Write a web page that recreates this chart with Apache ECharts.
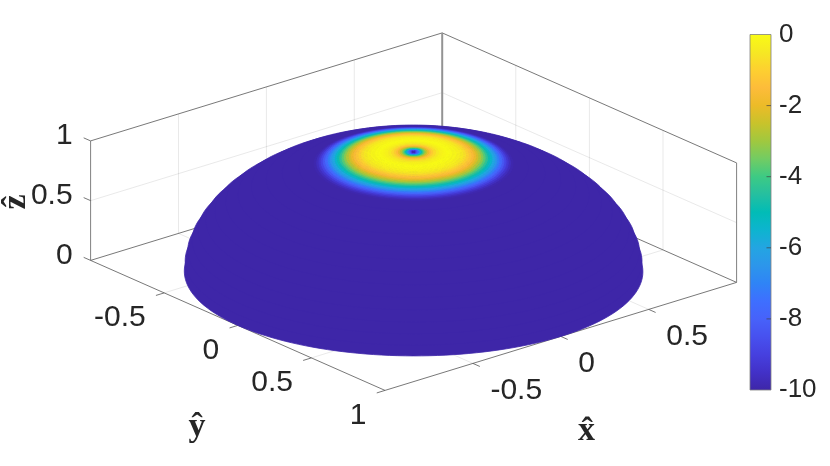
<!DOCTYPE html>
<html>
<head>
<meta charset="utf-8">
<script src="https://cdn.jsdelivr.net/npm/echarts@6/dist/echarts.min.js"></script>
<style>
html, body { margin: 0; background: #fff; }
#main { width: 830px; height: 466px; }
</style>
</head>
<body>
<div id="main"></div>
<script>
// polar angle from the pole (deg) and level there (dB), read along the ring
const thetaDeg = [0, 0.3, 0.6, 0.85, 1.15, 1.45, 1.7, 2, 2.3, 2.6, 2.9, 3.35, 3.8, 4.25, 4.8, 5.5, 6.3, 7.2, 8, 8.6, 9.5, 10.6, 11.5, 12.4, 13.1, 13.8, 14.5, 15.1, 15.7, 16.3, 17, 17.6, 18.2, 18.8, 19.4, 20, 20.7, 21.3, 21.9, 22.6, 23.2, 23.8, 24.4, 25, 25.7, 30, 35, 40, 45, 50, 55, 60, 65, 70, 75, 80, 85, 90]
const levelDb = [-10, -9.4, -8.6, -7.8, -7, -6.1, -5.2, -4.5, -3.8, -3.3, -2.8, -2.2, -1.7, -1.3, -0.9, -0.6, -0.3, -0.12, -0.02, 0, -0.06, -0.18, -0.33, -0.55, -0.8, -1.1, -1.4, -1.75, -2.1, -2.5, -3, -3.5, -4, -4.6, -5.1, -5.7, -6.2, -6.8, -7.4, -8, -8.6, -9.1, -9.5, -9.8, -10, -10, -10, -10, -10, -10, -10, -10, -10, -10, -10, -10, -10, -10]

const xTicks = [-0.5, 0, 0.5]
const xTickLabels = ['-0.5', '0', '0.5']
const yTicks = [-0.5, 0, 0.5, 1]
const yTickLabels = ['-0.5', '0', '0.5', '1']
const zTicks = [0, 0.5, 1]
const zTickLabels = ['0', '0.5', '1']
const barTicks = [-8, -6, -4, -2]

const parula = ['#3e26a8', '#4231c8', '#4640df', '#4751ef', '#4762fa', '#3e6fff', '#2f84f6', '#2c96eb', '#23a5e2', '#0db4cf', '#01bcb6', '#25bfa0', '#3dca84', '#72cc63', '#a0c83f', '#c8c32b', '#ecbb28', '#fdbc3a', '#fdd030', '#f6e823', '#f9fb15']

const phiStep = 4
const capEdge = 25.7 // past this angle everything is at the floor level
const tickLen = 0.047

// oblique view of the box, in page pixels
function project(x, y, z) {
  return [413.6 + 175.8 * x + 147.2 * y, 271.4 - 54 * x + 65 * y - 119.5 * z]
}

function spherePoint(theta, phi) {
  const t = theta * Math.PI / 180
  const p = phi * Math.PI / 180
  return project(Math.sin(t) * Math.cos(p), Math.sin(t) * Math.sin(p), Math.cos(t))
}

// outermost rings first so the coloured cap ends up on top
let cells = []
for (let i = thetaDeg.length - 2; i >= 0; i--) {
  if (thetaDeg[i] >= capEdge) {
    // flat part is one filled circle per ring, no seams between cells
    cells.push([thetaDeg[i], thetaDeg[i + 1], levelDb[i], -1])
    continue
  }
  for (let phi = 0; phi < 360; phi += phiStep) {
    cells.push([thetaDeg[i], thetaDeg[i + 1], (levelDb[i] + levelDb[i + 1]) / 2, phi])
  }
}

let gridSegs = []
let boxSegs = []
let tickSegs = []
xTicks.forEach(x => {
  gridSegs.push([x, 1, 0, x, -1, 0], [x, -1, 0, x, -1, 1])
  tickSegs.push([x, 1, 0, x, 1 + tickLen, 0])
})
yTicks.forEach(y => {
  if (y < 1) gridSegs.push([-1, y, 0, 1, y, 0], [1, y, 0, 1, y, 1])
  tickSegs.push([-1, y, 0, -1 - tickLen, y, 0])
})
zTicks.forEach(z => {
  if (z > 0 && z < 1) gridSegs.push([-1, -1, z, 1, -1, z], [1, -1, z, 1, 1, z])
  tickSegs.push([-1, -1, z, -1, -1 - tickLen, z])
})
boxSegs.push(
  [-1, -1, 0, -1, 1, 0], [-1, 1, 0, 1, 1, 0], [-1, -1, 0, 1, -1, 0], [1, -1, 0, 1, 1, 0],
  [-1, -1, 1, 1, -1, 1], [1, -1, 1, 1, 1, 1]
)
const sideSegs = [[-1, -1, 0, -1, -1, 1], [1, 1, 0, 1, 1, 1]]
const backSegs = [[1, -1, 0, 1, -1, 1]]

const sansFont = '"Liberation Sans", Arial, sans-serif'
const serifFont = '"Liberation Serif", serif'
let labels = []
xTicks.forEach((x, i) => {
  const p = project(x, 1, 0)
  labels.push({ text: xTickLabels[i], x: p[0] + 17.5, y: p[1] + 27, align: 'left' })
})
yTicks.forEach((y, i) => {
  const p = project(-1, y, 0)
  labels.push({ text: yTickLabels[i], x: p[0] - 18.5, y: p[1] + 25, align: 'right' })
})
zTicks.forEach((z, i) => {
  const p = project(-1, -1, z)
  labels.push({ text: zTickLabels[i], x: p[0] - 18, y: p[1] - 4.7, align: 'right' })
})

function segSeries(segs, color, width) {
  return {
    type: 'custom',
    silent: true,
    animation: false,
    clip: false,
    data: segs,
    renderItem: (params, api) => {
      const a = api.coord(project(api.value(0), api.value(1), api.value(2)))
      const b = api.coord(project(api.value(3), api.value(4), api.value(5)))
      return {
        type: 'line',
        shape: { x1: a[0], y1: a[1], x2: b[0], y2: b[1] },
        style: { stroke: color, lineWidth: width, fill: null }
      }
    }
  }
}

const myChart = echarts.init(document.getElementById('main'), null, { renderer: 'canvas' })

let option = {
  animation: false,
  backgroundColor: '#fff',
  grid: [
    { left: 0, top: 0, right: 0, bottom: 0, outerBoundsMode: 'none' },
    { left: 750, top: 34.5, width: 21, height: 355.5, outerBoundsMode: 'none', show: true, backgroundColor: 'transparent', borderColor: '#808080', borderWidth: 0.8, z: 6 }
  ],
  xAxis: [
    { type: 'value', min: 0, max: 830, show: false, gridIndex: 0 },
    { type: 'value', min: 0, max: 1, show: false, gridIndex: 1 }
  ],
  yAxis: [
    { type: 'value', min: 0, max: 466, inverse: true, show: false, gridIndex: 0 },
    {
      type: 'value', min: -10, max: 0, interval: 2, gridIndex: 1, position: 'right', z: 6,
      axisLine: { show: false },
      axisTick: { show: false },
      splitLine: { show: false },
      axisLabel: { fontSize: 26, fontFamily: sansFont, color: '#262626', margin: 8, padding: [3, 0, 0, 0] }
    }
  ],
  visualMap: {
    type: 'continuous',
    show: false,
    min: -10,
    max: 0,
    seriesIndex: 6,
    dimension: 2,
    inRange: { color: parula }
  },
  series: [
    segSeries(gridSegs, 'rgba(38,38,38,0.1)', 1),
    segSeries(boxSegs, '#555555', 0.8),
    segSeries(sideSegs, '#808080', 1),
    segSeries(backSegs, '#939393', 2),
    segSeries(tickSegs, '#555555', 0.8),
    {
      type: 'custom',
      silent: true,
      animation: false,
      clip: false,
      data: labels.map((d, i) => [i]),
      renderItem: (params, api) => {
        const d = labels[api.value(0)]
        return {
          type: 'text',
          style: { text: d.text, x: d.x, y: d.y, align: d.align, verticalAlign: 'middle', fontSize: 30, fontFamily: sansFont, fill: '#262626' }
        }
      }
    },
    {
      type: 'custom',
      silent: true,
      animation: false,
      clip: false,
      progressive: 0,
      dimensions: ['thetaA', 'thetaB', 'level', 'phi'],
      encode: { x: 0, y: 1 },
      data: cells,
      renderItem: (params, api) => {
        const t0 = api.value(0)
        const t1 = api.value(1)
        const phi = api.value(3)
        const color = api.visual('color')
        let pts = []
        if (phi < 0) {
          for (let a = 0; a < 360; a += 2) pts.push(api.coord(spherePoint(t1, a)))
        } else {
          pts = [
            spherePoint(t0, phi), spherePoint(t1, phi),
            spherePoint(t1, phi + phiStep), spherePoint(t0, phi + phiStep)
          ].map(p => api.coord(p))
        }
        return {
          type: 'polygon',
          shape: { points: pts },
          style: { fill: color, stroke: color, lineWidth: 0.8 }
        }
      }
    },
    {
      // colour bar, one gradient rectangle on its own axis
      type: 'custom',
      silent: true,
      animation: false,
      xAxisIndex: 1,
      yAxisIndex: 1,
      data: [[0, -10, 1, 0]],
      renderItem: (params, api) => {
        const a = api.coord([api.value(0), api.value(3)])
        const b = api.coord([api.value(2), api.value(1)])
        return {
          type: 'rect',
          shape: { x: a[0], y: a[1], width: b[0] - a[0], height: b[1] - a[1] },
          style: {
            fill: new echarts.graphic.LinearGradient(0, 1, 0, 0, parula.map((c, i) => ({ offset: i / (parula.length - 1), color: c })))
          }
        }
      }
    },
    {
      // inward ticks on the bar's right edge
      type: 'custom',
      silent: true,
      animation: false,
      xAxisIndex: 1,
      yAxisIndex: 1,
      z: 7,
      data: barTicks.map(v => [1, v]),
      renderItem: (params, api) => {
        const p = api.coord([api.value(0), api.value(1)])
        return {
          type: 'line',
          shape: { x1: p[0] - 4.5, y1: p[1], x2: p[0], y2: p[1] },
          style: { stroke: '#404040', lineWidth: 0.7, fill: null }
        }
      }
    }
  ],
  graphic: [
    { type: 'text', x: 586.5, y: 431, style: { text: 'x\u0302', fontSize: 34, fontWeight: 'bold', fontFamily: serifFont, fill: '#262626', align: 'center', verticalAlign: 'middle' } },
    { type: 'text', x: 197, y: 427, style: { text: 'y\u0302', fontSize: 34, fontWeight: 'bold', fontFamily: serifFont, fill: '#262626', align: 'center', verticalAlign: 'middle' } },
    { type: 'text', x: 16, y: 202, rotation: Math.PI / 2, style: { text: 'z\u0302', fontSize: 34, fontWeight: 'bold', fontFamily: serifFont, fill: '#262626', align: 'center', verticalAlign: 'middle' } }
  ]
}
myChart.setOption(option)
</script>
</body>
</html>
